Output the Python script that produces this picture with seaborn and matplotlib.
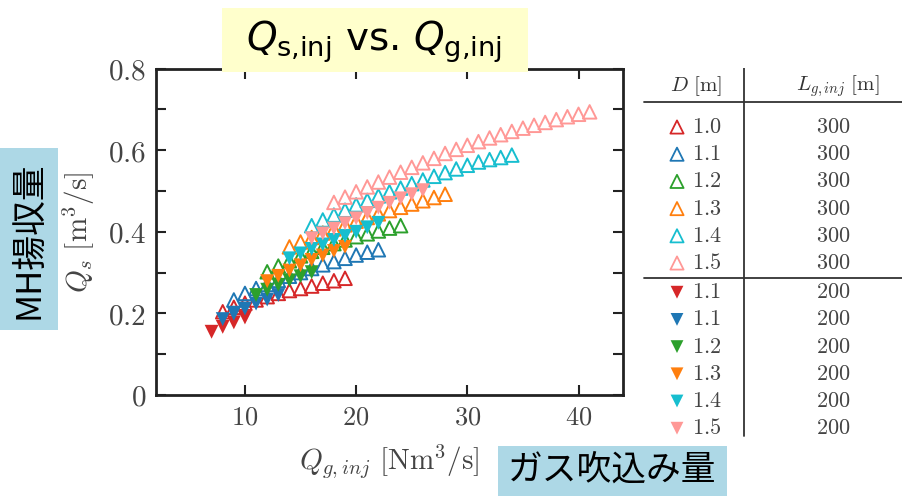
import numpy as np
import pandas as pd
import matplotlib
matplotlib.use("Agg")
import matplotlib.pyplot as plt
from matplotlib.patches import Rectangle
import seaborn as sns

# --- data (Q_g,inj [Nm3/s], Q_s [m3/s]) ---
series_names = ["o10", "o11", "o12", "o13", "o14", "o15",
                "f11r", "f11b", "f12", "f13", "f14", "f15"]
d_labels = ["1.0", "1.1", "1.2", "1.3", "1.4", "1.5",
            "1.1", "1.1", "1.2", "1.3", "1.4", "1.5"]
l_labels = ["300", "300", "300", "300", "300", "300",
            "200", "200", "200", "200", "200", "200"]

o10_x = [8, 9, 10, 11, 12, 13, 14, 15, 16, 17, 18, 19]
o10_y = [0.204, 0.215, 0.225, 0.233, 0.241, 0.249, 0.256, 0.261, 0.267, 0.274, 0.280, 0.286]
o11_x = [9, 10, 11, 12, 13, 14, 15, 16, 17, 18, 19, 20, 21, 22]
o11_y = [0.233, 0.249, 0.261, 0.271, 0.281, 0.291, 0.300, 0.310, 0.319, 0.327, 0.335, 0.343, 0.350, 0.356]
o12_x = [12, 13, 14, 15, 16, 17, 18, 19, 20, 21, 22, 23, 24]
o12_y = [0.302, 0.316, 0.329, 0.341, 0.352, 0.362, 0.371, 0.380, 0.388, 0.395, 0.402, 0.409, 0.415]
o13_x = [14, 15, 16, 17, 18, 19, 20, 21, 22, 23, 24, 25, 26, 27, 28]
o13_y = [0.363, 0.375, 0.386, 0.397, 0.407, 0.417, 0.426, 0.435, 0.444, 0.452, 0.460, 0.468, 0.476, 0.484, 0.492]
o14_x = [16, 17, 18, 19, 20, 21, 22, 23, 24, 25, 26, 27, 28, 29, 30, 31, 32, 33, 34]
o14_y = [0.415, 0.429, 0.441, 0.453, 0.466, 0.477, 0.488, 0.498, 0.507, 0.518, 0.527, 0.536,
         0.545, 0.554, 0.563, 0.571, 0.577, 0.582, 0.588]
o15_x = [18, 19, 20, 21, 22, 23, 24, 25, 26, 27, 28, 29, 30, 31, 32, 33, 34, 35, 36, 37, 38, 39, 40, 41]
o15_y = [0.472, 0.485, 0.498, 0.510, 0.522, 0.534, 0.546, 0.558, 0.569, 0.580, 0.592, 0.602,
         0.612, 0.621, 0.630, 0.638, 0.646, 0.654, 0.661, 0.668, 0.675, 0.682, 0.688, 0.694]

f11r_x = [7, 8, 9, 10]
f11r_y = [0.155, 0.167, 0.178, 0.190]
f11b_x = [8, 9, 10, 11, 12, 13]
f11b_y = [0.186, 0.199, 0.212, 0.224, 0.234, 0.245]
f12_x = [11, 12, 13, 14, 15, 16]
f12_y = [0.245, 0.258, 0.270, 0.281, 0.291, 0.301]
f13_x = [12, 13, 14, 15, 16, 17, 18, 19]
f13_y = [0.279, 0.292, 0.305, 0.318, 0.331, 0.342, 0.353, 0.363]
f14_x = [14, 15, 16, 17, 18, 19, 20, 21, 22]
f14_y = [0.335, 0.347, 0.358, 0.369, 0.380, 0.390, 0.400, 0.411, 0.422]
f15_x = [16, 17, 18, 19, 20, 21, 22, 23, 24, 25, 26]
f15_y = [0.384, 0.396, 0.408, 0.421, 0.433, 0.446, 0.459, 0.471, 0.482, 0.492, 0.502]

xs = [o10_x, o11_x, o12_x, o13_x, o14_x, o15_x, f11r_x, f11b_x, f12_x, f13_x, f14_x, f15_x]
ys = [o10_y, o11_y, o12_y, o13_y, o14_y, o15_y, f11r_y, f11b_y, f12_y, f13_y, f14_y, f15_y]

colors = ["#d62728", "#1f77b4", "#2ca02c", "#ff7f0e", "#17becf", "#ff9896"] * 2
filled = [False] * 6 + [True] * 6

df = pd.concat(
    [pd.DataFrame({"Qg": x, "Qs": y, "series": n}) for n, x, y in zip(series_names, xs, ys)],
    ignore_index=True,
)

sns.set_style("ticks")
plt.rcParams["font.family"] = ["DejaVu Sans"]
plt.rcParams["mathtext.fontset"] = "cm"

fig = plt.figure(figsize=(9.02, 4.96), dpi=100)
W, H = 902, 496

# main axes: pixel box 156..623 x 68.6..395
ax = fig.add_axes([156 / W, 1 - 395 / H, (623 - 156) / W, (395 - 68.6) / H])

for name, c, f in zip(series_names, colors, filled):
    sub = df[df["series"] == name]
    if f:
        sns.scatterplot(data=sub, x="Qg", y="Qs", ax=ax, marker="v", color=c,
                        s=100, edgecolor="none", linewidth=0, zorder=3, legend=False)
    else:
        sns.scatterplot(data=sub, x="Qg", y="Qs", ax=ax, marker="^", color=c,
                        facecolor="none", edgecolor=c, s=95, linewidth=1.4,
                        zorder=2, legend=False)

ax.set_xlim(2, 44)
ax.set_ylim(0, 0.8)
ax.set_xticks([10, 20, 30, 40])
ax.set_xticklabels([r"$10$", r"$20$", r"$30$", r"$40$"])
ax.set_yticks([0, 0.2, 0.4, 0.6, 0.8])
ax.set_yticklabels([r"$0$", r"$0.2$", r"$0.4$", r"$0.6$", r"$0.8$"])
ax.set_yticks([0.1, 0.3, 0.5, 0.7], minor=True)
ax.tick_params(which="both", direction="in", top=True, right=True,
               length=7, width=1.5, colors="#222222", labelcolor="#444444")
ax.tick_params(axis="x", labelsize=19, pad=7)
ax.tick_params(axis="y", labelsize=21, pad=7)
for sp in ax.spines.values():
    sp.set_linewidth(2)
    sp.set_color("#222222")

ax.set_xlabel(r"$Q_{g,inj}\ [\mathrm{Nm}^3/\mathrm{s}]$", fontsize=21, color="#444444", labelpad=8)
ax.set_ylabel(r"$Q_s\ [\mathrm{m}^3/\mathrm{s}]$", fontsize=21, color="#444444", labelpad=8)

# --- legend table on the right ---
tx = fig.add_axes([640 / W, 1 - 440 / H, (W - 640) / W, 372 / H])
tx.set_xlim(0, W - 640)
tx.set_ylim(440, 68)
tx.axis("off")
line_kw = dict(color="#333333", linewidth=1.3)
tx.plot([104, 104], [68, 436], **line_kw)
tx.plot([4, W - 640], [102, 102], **line_kw)
tx.plot([4, W - 640], [277.5, 277.5], **line_kw)
tx.text(56, 86, r"$D\ [\mathrm{m}]$", fontsize=15, ha="center", va="center", color="#333333")
tx.text(198, 86, r"$L_{g,inj}\ [\mathrm{m}]$", fontsize=15, ha="center", va="center", color="#333333")
for i, (d, l, c, f) in enumerate(zip(d_labels, l_labels, colors, filled)):
    yrow = 127 + 27.2 * i + (2 if f else 0)
    if f:
        tx.scatter([37], [yrow], marker="v", s=85, color=c, edgecolor="none")
    else:
        tx.scatter([37], [yrow], marker="^", s=90, facecolor="none", edgecolor=c, linewidth=1.3)
    tx.text(52, yrow, "$" + d + "$", fontsize=16, ha="left", va="center", color="#444444")
    tx.text(193, yrow, "$" + l + "$", fontsize=16, ha="center", va="center", color="#444444")

# --- overlay boxes ---
fig.add_artist(Rectangle((222 / W, 1 - 72 / H), 306 / W, 64 / H, transform=fig.transFigure,
                         facecolor="#ffffcc", edgecolor="none", zorder=5))
fig.text(374 / W, 1 - 42 / H, r"$Q_{\mathrm{s{,}inj}}$ vs. $Q_{\mathrm{g{,}inj}}$",
         fontsize=28, ha="center", va="center", color="black", zorder=6,
         math_fontfamily="dejavusans")

cjk = ["Noto Sans CJK JP", "DejaVu Sans"]
fig.add_artist(Rectangle((0 / W, 1 - 330 / H), 58 / W, 182 / H, transform=fig.transFigure,
                         facecolor="#add8e6", edgecolor="none", zorder=5))
fig.text(29 / W, 1 - 240 / H, "MH揚収量", fontsize=25, rotation=90, ha="center", va="center",
         family=cjk, color="black", zorder=6)
fig.add_artist(Rectangle((498 / W, 0), 229 / W, 50 / H, transform=fig.transFigure,
                         facecolor="#add8e6", edgecolor="none", zorder=5))
fig.text(612 / W, 1 - 470 / H, "ガス吹込み量", fontsize=25, ha="center", va="center",
         family=cjk, color="black", zorder=6)

fig.savefig("out.png", dpi=100)
